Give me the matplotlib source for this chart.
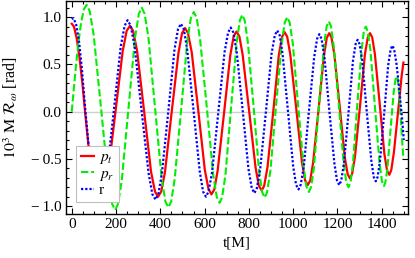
import matplotlib
matplotlib.use("Agg")
import matplotlib.pyplot as plt
from matplotlib.ticker import MultipleLocator, FuncFormatter

# p_t (red, solid)
t_pt = [0, 10, 22, 35, 48, 60, 75, 90, 105, 118, 131,
        146, 164, 197, 230, 248, 263,
        277, 295, 327, 358, 376, 390,
        404, 421, 451, 482, 498, 512,
        525, 542, 572, 601, 618, 631,
        644, 659, 688, 716, 731, 744,
        757, 772, 801, 830, 845, 858,
        869, 884, 910, 935, 950, 961,
        973, 987, 1014, 1040, 1054, 1066,
        1077, 1090, 1115, 1139, 1152, 1163,
        1173, 1186, 1210, 1233, 1246, 1256,
        1266, 1279, 1302, 1324, 1337, 1347,
        1357, 1369, 1391, 1412, 1424, 1434,
        1443, 1455, 1476, 1490, 1498]
v_pt = [0.93, 0.90, 0.78, 0.57, 0.30, 0.00, -0.35, -0.62, -0.82, -0.91, -0.92,
        -0.87, -0.65, -0.01, 0.64, 0.855, 0.909,
        0.855, 0.644, 0.00, -0.635, -0.846, -0.90,
        -0.846, -0.639, -0.01, 0.623, 0.830, 0.884,
        0.831, 0.626, 0.00, -0.617, -0.822, -0.875,
        -0.823, -0.623, -0.01, 0.596, 0.796, 0.848,
        0.797, 0.601, 0.01, -0.588, -0.785, -0.835,
        -0.785, -0.589, 0.00, 0.596, 0.792, 0.842,
        0.793, 0.605, 0.03, -0.540, -0.728, -0.777,
        -0.729, -0.541, 0.03, 0.595, 0.783, 0.831,
        0.785, 0.606, 0.06, -0.481, -0.660, -0.706,
        -0.660, -0.481, 0.06, 0.606, 0.785, 0.831,
        0.786, 0.611, 0.08, -0.448, -0.623, -0.668,
        -0.62, -0.43, 0.05, 0.38, 0.52]

# p_r (green, dashed)
t_pr = [0, 9, 18, 30, 42, 55, 67,
        81, 99, 132, 164, 182, 196,
        209, 226, 256, 286, 303, 316,
        329, 346, 376, 406, 423, 436,
        449, 465, 494, 522, 538, 551,
        564, 580, 610, 639, 655, 668,
        679, 694, 719, 745, 759, 770,
        781, 795, 821, 846, 860, 871,
        882, 897, 922, 948, 962, 973,
        984, 998, 1022, 1047, 1060, 1071,
        1081, 1094, 1116, 1139, 1151, 1161,
        1171, 1183, 1206, 1228, 1240, 1250,
        1259, 1270, 1289, 1309, 1319, 1328,
        1337, 1349, 1369, 1390, 1401, 1410,
        1416, 1425, 1439, 1454, 1462, 1468,
        1472, 1479, 1486, 1492, 1498]
v_pr = [0.00, 0.235, 0.46, 0.73, 0.94, 1.085, 1.13,
        1.065, 0.812, 0.045, -0.722, -0.975, -1.04,
        -0.976, -0.726, 0.03, 0.786, 1.036, 1.10,
        1.037, 0.790, 0.043, -0.704, -0.951, -1.014,
        -0.952, -0.711, 0.02, 0.751, 0.992, 1.054,
        0.993, 0.758, 0.045, -0.669, -0.904, -0.965,
        -0.905, -0.673, 0.03, 0.733, 0.965, 1.025,
        0.967, 0.742, 0.06, -0.627, -0.852, -0.91,
        -0.853, -0.630, 0.045, 0.720, 0.943, 1.00,
        0.945, 0.729, 0.075, -0.579, -0.795, -0.85,
        -0.796, -0.586, 0.05, 0.691, 0.901, 0.955,
        0.902, 0.698, 0.08, -0.543, -0.747, -0.80,
        -0.749, -0.551, 0.05, 0.651, 0.849, 0.90,
        0.849, 0.653, 0.06, -0.540, -0.736, -0.787,
        -0.752, -0.617, -0.21, 0.205, 0.340, 0.375,
        0.35, 0.18, -0.07, -0.30, -0.50]

# r (blue, dotted)
t_r = [0, 8, 20, 33, 46, 60, 75, 90, 105, 117, 127,
       141, 158, 190, 221, 239, 252,
       266, 284, 315, 347, 364, 378,
       391, 407, 436, 464, 480, 493,
       506, 521, 550, 578, 593, 606,
       618, 634, 662, 690, 706, 718,
       730, 745, 772, 798, 813, 825,
       836, 851, 877, 902, 917, 928,
       939, 952, 976, 1000, 1013, 1024,
       1034, 1048, 1071, 1095, 1108, 1118,
       1128, 1141, 1163, 1186, 1198, 1208,
       1217, 1229, 1250, 1270, 1282, 1291,
       1300, 1312, 1332, 1353, 1364, 1373,
       1381, 1392, 1411, 1429, 1440, 1448,
       1456, 1467, 1479, 1491, 1500]
v_r = [0.98, 0.99, 0.92, 0.74, 0.45, 0.05, -0.33, -0.64, -0.86, -0.94, -0.95,
       -0.892, -0.669, 0.01, 0.687, 0.910, 0.968,
       0.911, 0.690, 0.02, -0.652, -0.873, -0.93,
       -0.874, -0.658, 0.00, 0.658, 0.874, 0.93,
       0.875, 0.662, 0.015, -0.632, -0.845, -0.90,
       -0.846, -0.638, -0.005, 0.628, 0.836, 0.89,
       0.837, 0.633, 0.014, -0.605, -0.809, -0.862,
       -0.810, -0.610, 0.00, 0.607, 0.807, 0.859,
       0.809, 0.613, 0.018, -0.577, -0.773, -0.823,
       -0.774, -0.582, 0.00, 0.579, 0.771, 0.82,
       0.772, 0.586, 0.02, -0.543, -0.729, -0.777,
       -0.731, -0.552, -0.01, 0.535, 0.714, 0.76,
       0.715, 0.541, 0.01, -0.518, -0.692, -0.737,
       -0.694, -0.526, -0.02, 0.489, 0.657, 0.70,
       0.66, 0.50, 0.24, -0.05, -0.30]

labels = [r'$p_t$', r'$p_r$', 'r']


def fmt_y(v, pos):
    s = '%.1f' % abs(v)
    if v < -1e-9:
        s = '\u2212\u2009' + s
    return s


plt.rcParams['font.family'] = ['Liberation Serif', 'DejaVu Serif']
plt.rcParams['mathtext.fontset'] = 'stix'
plt.rcParams['font.size'] = 11

fig = plt.figure(figsize=(4.15, 2.58), dpi=100)
ax = fig.add_axes([66 / 415, 44 / 258, 342.3 / 415, 213 / 258])

ax.axhline(0, color='0.82', lw=1.0, zorder=0.5)
ax.plot(t_pt, v_pt, color='#ff0000', lw=1.6, label=labels[0])
ax.plot(t_pr, v_pr, color='#00ee00', lw=1.5, ls=(0, (3.5, 1.4)), label=labels[1])
ax.plot(t_r, v_r, color='#0000ff', lw=1.6, ls=(0, (1, 0.9)), label=labels[2])

ax.set_xlim(-26, 1520)
ax.set_ylim(-1.083, 1.171)

ax.xaxis.set_major_locator(MultipleLocator(200))
ax.xaxis.set_minor_locator(MultipleLocator(50))
ax.yaxis.set_major_locator(MultipleLocator(0.5))
ax.yaxis.set_minor_locator(MultipleLocator(0.1))
ax.yaxis.set_major_formatter(FuncFormatter(fmt_y))
ax.tick_params(which='both', direction='in', top=True, right=True, width=0.8)
ax.tick_params(which='major', length=4, pad=3)
ax.tick_params(which='minor', length=2)
for s in ax.spines.values():
    s.set_linewidth(1.0)

ax.set_xlabel('t[M]', labelpad=4)
ax.set_ylabel(r'$10^3\ \mathrm{M}\ \mathcal{R}_{\omega}$ [rad]', fontsize=11.5)
ax.yaxis.set_label_coords(-0.135, 0.5)

leg = ax.legend(loc='lower left', bbox_to_anchor=(0.029, 0.058), borderaxespad=0,
                fancybox=False, framealpha=1, edgecolor='0.75', handlelength=0.9,
                handletextpad=0.3, labelspacing=0.05, borderpad=0.3, fontsize=11)
leg.get_frame().set_linewidth(0.8)

fig.savefig('out.png', dpi=100)
